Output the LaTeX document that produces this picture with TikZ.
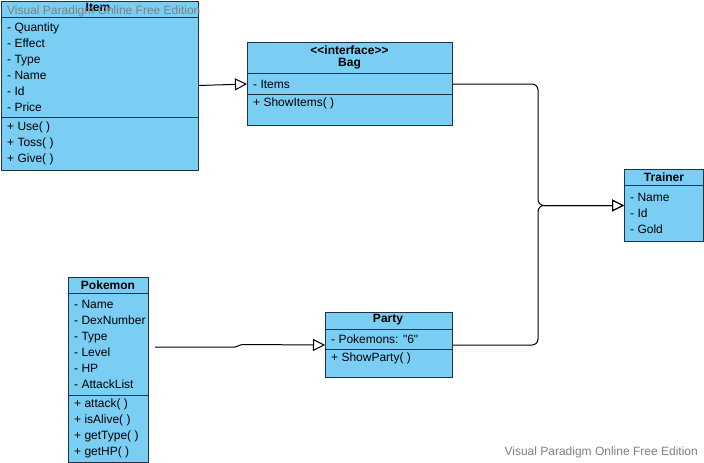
\documentclass[tikz,border=0pt]{standalone}
\usepackage{fontspec}
\setmainfont{Liberation Sans}[Ligatures=TeXOff]
\usetikzlibrary{arrows.meta}
\usetikzlibrary{positioning}

\definecolor{umlfill}{HTML}{7ACEF4}
\definecolor{umlline}{HTML}{1E3440}
\definecolor{vpgray}{HTML}{7F7F7F}

\tikzset{
  classbox/.style={draw=umlline, fill=umlfill, line width=1pt, anchor=north west, inner sep=0pt},
  sepline/.style={draw=umlline, line width=1pt},
  rowtext/.style={anchor=base west, inner sep=0pt, font=\fontsize{12}{14}\selectfont},
  titletext/.style={inner sep=0pt, font=\fontsize{12}{14}\selectfont\bfseries},
  link/.style={draw=black, line width=1pt, -{Triangle[open, length=12pt, width=12pt]}},
  watermark/.style={inner sep=0pt, text=vpgray, font=\fontsize{12}{14}\selectfont}
}

\newcommand\members[4]{
  \foreach \txt [count=\i from 0] in {#4} {
    \node[rowtext] (#1-\i) at (#2,#3+16*\i) {\txt};
  }
}
\newcommand\compartment[2]{
  \draw[sepline] (#1.west |- 0,#2) -- (#1.east |- 0,#2);
}

\begin{document}
\begin{tikzpicture}[x=1pt, y=-1pt]
  \useasboundingbox (0,0) rectangle (704,463);

  % Item
  \node[classbox, minimum width=197pt, minimum height=169pt] (item) at (0.5,0.5) {};
  \node[titletext] (item-title) at (98,7) {Item};
  \compartment{item}{17}
  \compartment{item}{117}
  \members{itema}{7}{31.5}{- Quantity,- Effect,- Type,- Name,- Id,- Price}
  \members{itemm}{7}{130.5}{+ Use( ),+ Toss( ),+ Give( )}

  % Bag
  \node[classbox, minimum width=205pt, minimum height=83pt] (bag) at (247,42) {};
  \node[titletext] (bag-stereo) at (349.5,50) {<<interface>>};
  \node[titletext] (bag-title) at (349.5,64) {Bag};
  \compartment{bag}{73}
  \compartment{bag}{94}
  \members{baga}{253}{88.5}{- Items}
  \members{bagm}{253}{106.5}{+ ShowItems( )}

  % Trainer
  \node[classbox, minimum width=79pt, minimum height=72pt] (trainer) at (624,169) {};
  \node[titletext] (trainer-title) at (664,177) {Trainer};
  \compartment{trainer}{185}
  \members{trainera}{630}{201.5}{- Name,- Id,- Gold}

  % Pokemon
  \node[classbox, minimum width=80pt, minimum height=185pt] (pokemon) at (68,277) {};
  \node[titletext] (pokemon-title) at (108,285) {Pokemon};
  \compartment{pokemon}{293}
  \compartment{pokemon}{395}
  \members{pokemona}{74}{308.5}{- Name,- DexNumber,- Type,- Level,- HP,- AttackList}
  \members{pokemonm}{74}{407.5}{+ attack( ),+ isAlive( ),+ getType( ),+ getHP( )}

  % Party
  \node[classbox, minimum width=127pt, minimum height=65pt] (party) at (325,312) {};
  \node[titletext] (party-title) at (388,320) {Party};
  \compartment{party}{329}
  \compartment{party}{349}
  \members{partya}{331}{343.5}{- Pokemons: "6"}
  \members{partym}{331}{361.5}{+ ShowParty( )}

  % connectors
  \coordinate (bus) at (538,0);
  \coordinate (pokemon-out) at ([xshift=6pt]pokemon.east |- 0,347);
  \draw[link] (item.east) -- (bag.west);
  \draw[link, rounded corners=6pt] (bag.east) -| (bus |- trainer.west) -- (trainer.west);
  \draw[link, rounded corners=6pt] (party.east) -| (bus |- trainer.west) -- (trainer.west);
  \draw[link, rounded corners=2pt] (pokemon-out) -- (237,347) -- (240,344.5) -- (party.west);

  % watermarks
  \node[watermark, anchor=west] (wm-top) at (7,11) {Visual Paradigm Online Free Edition};
  \node[watermark, anchor=east] (wm-bottom) at (698,452) {Visual Paradigm Online Free Edition};
\end{tikzpicture}
\end{document}
